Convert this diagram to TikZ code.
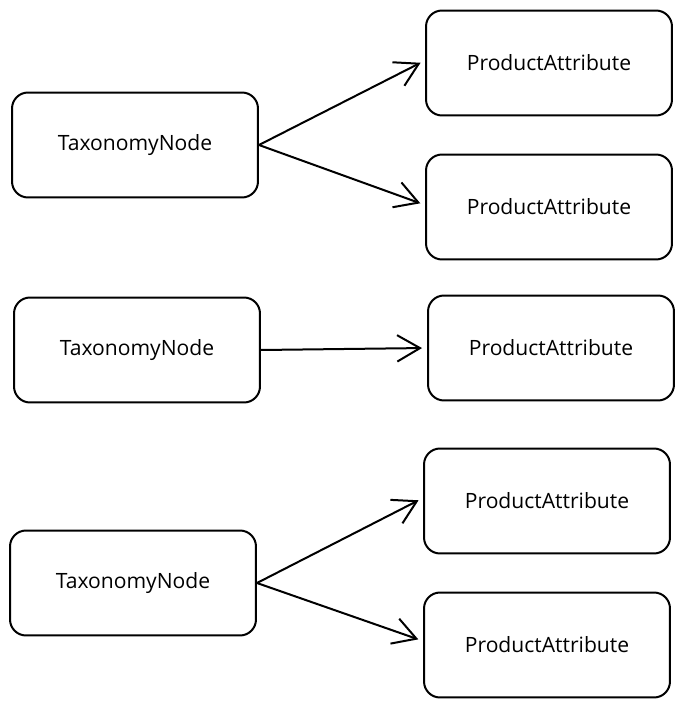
\documentclass[tikz,border=0pt]{standalone}
\usepackage{fontspec}
\setmainfont{Open Sans}
\usetikzlibrary{arrows.meta}

\tikzset{
	sketchbox/.style={draw, line width=0.4mm, rounded corners=0.32cm, minimum width=4.92cm, minimum height=2.1cm, font=\large},
	sketcharrow/.style={line width=0.4mm, -{Straight Barb[length=13pt, width=15pt, line width=0.4mm]}, shorten >=0.1cm}
}

\begin{document}
\begin{tikzpicture}[x=0.02cm, y=-0.02cm]
	%%%%% START %%%%%
	\useasboundingbox (0, 0) rectangle (684, 709);
	
	\node[sketchbox] (tax1) at (135, 145) {TaxonomyNode};
	\node[sketchbox] (tax2) at (137, 350) {TaxonomyNode};
	\node[sketchbox] (tax3) at (133, 583) {TaxonomyNode};
	
	\node[sketchbox] (attr1) at (549, 63) {ProductAttribute};
	\node[sketchbox] (attr2) at (549, 207) {ProductAttribute};
	\node[sketchbox] (attr3) at (551, 348) {ProductAttribute};
	\node[sketchbox] (attr4) at (547, 501) {ProductAttribute};
	\node[sketchbox] (attr5) at (547, 645) {ProductAttribute};
	
	\draw[sketcharrow] (tax1.east) -- ([yshift=0.05cm]attr1.west);
	\draw[sketcharrow] (tax1.east) -- ([yshift=0.04cm]attr2.west);
	
	\draw[sketcharrow] (tax2.east) -- (attr3.west);
	
	\draw[sketcharrow] (tax3.east) -- ([yshift=0.06cm]attr4.west);
	\draw[sketcharrow] (tax3.east) -- ([yshift=0.08cm]attr5.west);
	
	%%%%% END %%%%%
\end{tikzpicture}
\end{document}
